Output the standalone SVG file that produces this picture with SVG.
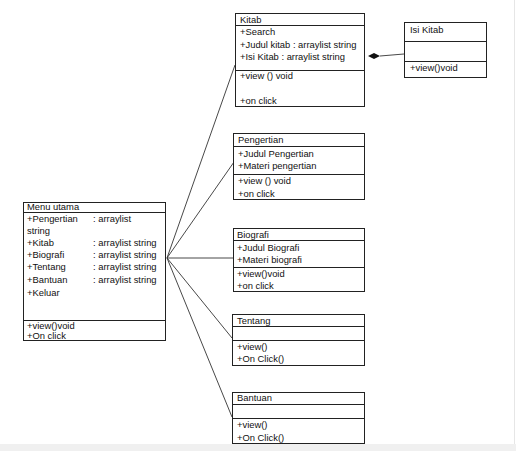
<svg xmlns="http://www.w3.org/2000/svg" width="516" height="451" viewBox="0 0 516 451">
<style>
.box{fill:#fff;stroke:#222;stroke-width:1}
.sep{stroke:#222;stroke-width:1}
.t{font-family:"Liberation Sans",Arial,sans-serif;font-size:9.4px;fill:#111}
.c{stroke:#333;stroke-width:0.9;fill:none}
</style>
<rect x="0" y="0" width="516" height="451" fill="#fff"/>
<rect x="0" y="444" width="516" height="7" fill="#f0f0f0"/>
<line x1="514.5" y1="0" x2="514.5" y2="444" stroke="#e6e6e6"/>
<g id="connectors">
<line class="c" x1="167" y1="258" x2="235" y2="65"/>
<line class="c" x1="167" y1="258" x2="234" y2="162"/>
<line class="c" x1="167" y1="258" x2="233" y2="258"/>
<line class="c" x1="167" y1="258" x2="232" y2="338"/>
<line class="c" x1="167" y1="258" x2="232" y2="417"/>
<line class="c" x1="380" y1="56" x2="404" y2="54"/>
<polygon points="368,56 374,53 380,56 374,59" fill="#111"/>
</g>
<g id="menu-utama">
<rect class="box" x="23.5" y="202.5" width="142" height="138"/>
<line class="sep" x1="23.5" y1="212.5" x2="165.5" y2="212.5"/>
<line class="sep" x1="23.5" y1="320.5" x2="165.5" y2="320.5"/>
<text class="t" x="27" y="210">Menu utama</text>
<text class="t" x="27" y="222">+Pengertian</text><text class="t" x="93" y="222">: arraylist</text>
<text class="t" x="27" y="234">string</text>
<text class="t" x="27" y="246">+Kitab</text><text class="t" x="93" y="246">: arraylist string</text>
<text class="t" x="27" y="258">+Biografi</text><text class="t" x="93" y="258">: arraylist string</text>
<text class="t" x="27" y="270">+Tentang</text><text class="t" x="93" y="270">: arraylist string</text>
<text class="t" x="27" y="283">+Bantuan</text><text class="t" x="93" y="283">: arraylist string</text>
<text class="t" x="27" y="296">+Keluar</text>
<text class="t" x="27" y="329">+view()void</text>
<text class="t" x="27" y="339">+On click</text>
</g>
<g id="kitab">
<rect class="box" x="235.5" y="13.5" width="129" height="93"/>
<line class="sep" x1="235.5" y1="25.5" x2="364.5" y2="25.5"/>
<line class="sep" x1="235.5" y1="70.5" x2="364.5" y2="70.5"/>
<text class="t" x="240" y="23">Kitab</text>
<text class="t" x="240" y="35">+Search</text>
<text class="t" x="240" y="48">+Judul kitab : arraylist string</text>
<text class="t" x="240" y="60">+Isi Kitab : arraylist string</text>
<text class="t" x="240" y="79">+view () void</text>
<text class="t" x="240" y="104">+on click</text>
</g>
<g id="isi-kitab">
<rect class="box" x="404.5" y="22.5" width="82" height="55"/>
<line class="sep" x1="404.5" y1="41.5" x2="486.5" y2="41.5"/>
<line class="sep" x1="404.5" y1="61.5" x2="486.5" y2="61.5"/>
<text class="t" x="410" y="33">Isi Kitab</text>
<text class="t" x="410" y="71">+view()void</text>
</g>
<g id="pengertian">
<rect class="box" x="233.5" y="133.5" width="131" height="66"/>
<line class="sep" x1="233.5" y1="146.5" x2="364.5" y2="146.5"/>
<line class="sep" x1="233.5" y1="174.5" x2="364.5" y2="174.5"/>
<text class="t" x="238" y="143">Pengertian</text>
<text class="t" x="238" y="157">+Judul Pengertian</text>
<text class="t" x="238" y="169">+Materi pengertian</text>
<text class="t" x="238" y="184">+view () void</text>
<text class="t" x="238" y="197">+on click</text>
</g>
<g id="biografi">
<rect class="box" x="233.5" y="228.5" width="131" height="63"/>
<line class="sep" x1="233.5" y1="240.5" x2="364.5" y2="240.5"/>
<line class="sep" x1="233.5" y1="267.5" x2="364.5" y2="267.5"/>
<text class="t" x="237" y="238">Biografi</text>
<text class="t" x="237" y="251">+Judul Biografi</text>
<text class="t" x="237" y="263">+Materi biografi</text>
<text class="t" x="237" y="277">+view()void</text>
<text class="t" x="237" y="289">+on click</text>
</g>
<g id="tentang">
<rect class="box" x="232.5" y="314.5" width="132" height="51"/>
<line class="sep" x1="232.5" y1="326.5" x2="364.5" y2="326.5"/>
<line class="sep" x1="232.5" y1="340.5" x2="364.5" y2="340.5"/>
<text class="t" x="237" y="324">Tentang</text>
<text class="t" x="237" y="350">+view()</text>
<text class="t" x="237" y="362">+On Click()</text>
</g>
<g id="bantuan">
<rect class="box" x="232.5" y="392.5" width="132" height="51"/>
<line class="sep" x1="232.5" y1="404.5" x2="364.5" y2="404.5"/>
<line class="sep" x1="232.5" y1="418.5" x2="364.5" y2="418.5"/>
<text class="t" x="237" y="401">Bantuan</text>
<text class="t" x="237" y="428">+view()</text>
<text class="t" x="237" y="441">+On Click()</text>
</g>
</svg>
